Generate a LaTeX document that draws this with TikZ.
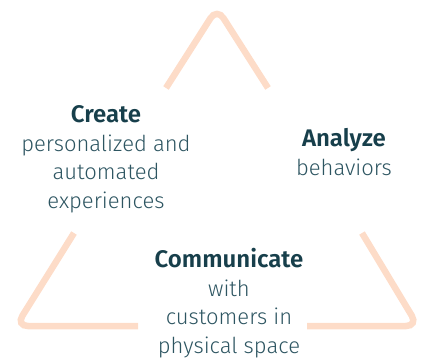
\documentclass[tikz,border=0pt]{standalone}
\usepackage{fontspec}
\setmainfont{Fira Sans Light}[BoldFont={Fira Sans SemiBold}]
\definecolor{peach}{HTML}{FDDCC8}
\definecolor{headc}{HTML}{173F4B}
\definecolor{bodyc}{HTML}{2D5561}
\tikzset{
  arm/.style={draw=peach, line width=6.5pt, rounded corners=12pt, line cap=butt},
  block/.style={align=center, inner sep=0pt, anchor=base, text=bodyc,
    font=\fontsize{22}{28.5}\selectfont},
}
\newcommand{\hd}[1]{{\fontsize{24}{28.5}\selectfont\bfseries\color{headc}#1}}
\begin{document}
\begin{tikzpicture}[x=1pt,y=-1pt]
\useasboundingbox (0,0) rectangle (421,360);
\draw[arm] (166,88) -- (217,8) -- (268,88);
\draw[arm] (74,233) -- (16,326) -- (138,326);
\draw[arm] (307,326) -- (418,326) -- (362,233);
\node[block] (create) at (106,208) {\hd{Create}\\personalized and\\automated\\experiences};
\node[block] (analyze) at (344,175) {\hd{Analyze}\\behaviors};
\node[block] (comm) at (229,353) {\hd{Communicate}\\with\\customers in\\physical space};
\end{tikzpicture}
\end{document}
